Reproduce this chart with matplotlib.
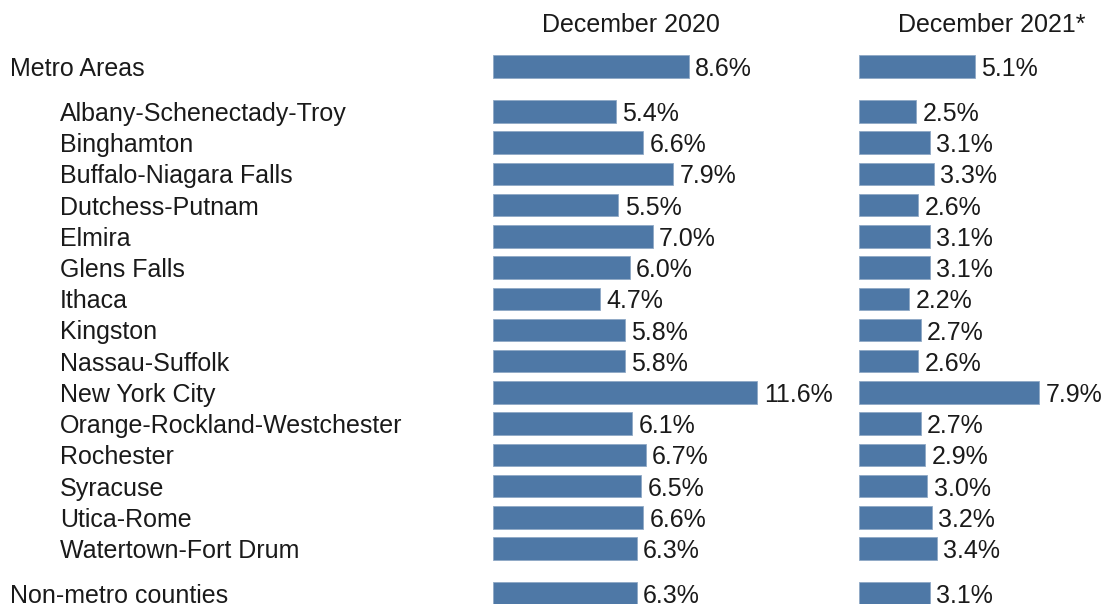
import matplotlib
matplotlib.use("Agg")
import matplotlib.pyplot as plt

plt.rcParams['font.family'] = ['Liberation Sans', 'DejaVu Sans']

areas = ["Metro Areas",
         "Albany-Schenectady-Troy", "Binghamton", "Buffalo-Niagara Falls",
         "Dutchess-Putnam", "Elmira", "Glens Falls", "Ithaca", "Kingston",
         "Nassau-Suffolk", "New York City", "Orange-Rockland-Westchester",
         "Rochester", "Syracuse", "Utica-Rome", "Watertown-Fort Drum",
         "Non-metro counties"]
dec2020 = [8.6, 5.4, 6.6, 7.9, 5.5, 7.0, 6.0, 4.7, 5.8, 5.8, 11.6, 6.1, 6.7, 6.5, 6.6, 6.3, 6.3]
dec2021 = [5.1, 2.5, 3.1, 3.3, 2.6, 3.1, 3.1, 2.2, 2.7, 2.6, 7.9, 2.7, 2.9, 3.0, 3.2, 3.4, 3.1]
headers = ["December 2020", "December 2021*"]

W, H = 1103, 604
fig = plt.figure(figsize=(W / 100, H / 100), dpi=100)

gap = 1.44
ypos = [-gap] + list(range(15)) + [14 + gap]
pxu = 31.22
ytop = -gap - 66.5 / pxu
ybot = 14 + gap + 10.5 / pxu
color = "#4E78A6"
bh = 22.5 / pxu
fs = 18
scale = 22.8  # px per percent

def make_ax(x0, x1, vals):
    ax = fig.add_axes([x0 / W, 0, (x1 - x0) / W, 1])
    ax.set_xlim(0, (x1 - x0) / scale)
    ax.set_ylim(ybot, ytop)
    ax.barh(ypos, vals, height=bh, color=color, edgecolor="#8FA8C6", linewidth=0.6)
    for y, v in zip(ypos, vals):
        ax.annotate(f"{v:.1f}%", (v, y), xytext=(4.5, 0), textcoords="offset points",
                    va="center_baseline", ha="left", fontsize=fs, color="#1a1a1a")
    ax.axis("off")
    return ax

ax1 = make_ax(493, 855, dec2020)
ax2 = make_ax(859, 1103, dec2021)

fig.text(631 / W, 1 - 22 / H, headers[0], ha="center", va="center_baseline", fontsize=fs, color="#1a1a1a")
fig.text(992 / W, 1 - 22 / H, headers[1], ha="center", va="center_baseline", fontsize=fs, color="#1a1a1a")

for i, (name, y) in enumerate(zip(areas, ypos)):
    xpx = 10 if i in (0, len(areas) - 1) else 60
    ypx = (y - ytop) * pxu
    fig.text(xpx / W, 1 - ypx / H, name, ha="left", va="center_baseline", fontsize=fs, color="#1a1a1a")

fig.savefig("out.png", dpi=100, facecolor="white")
